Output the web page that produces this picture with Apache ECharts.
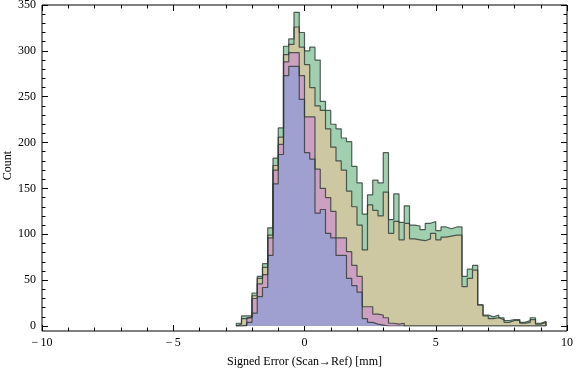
<!DOCTYPE html>
<html>
<head>
<meta charset="utf-8">
<script src="https://cdn.jsdelivr.net/npm/echarts@6/dist/echarts.min.js"></script>
<style>
html, body { margin: 0; padding: 0; background: #fff; }
#chart { width: 576px; height: 371px; }
</style>
</head>
<body>
<div id="chart"></div>
<script>
// bins of 0.2 mm, first edge at -2.6
var binStart = -2.6;
var binWidth = 0.2;

// top of each coloured layer per bin (counts)
var greenTop = [3, 11, 11, 36, 54, 68, 107, 183, 216, 305, 313, 342, 320, 300, 304, 290, 245, 235, 220, 215,
    205, 201, 174, 156, 122, 143, 159, 156, 189, 116, 144, 113, 131, 110, 109, 105, 112, 114, 104, 108,
    106, 108, 108, 54, 62, 66, 23, 12, 10, 12, 9, 6, 7, 7, 4, 6, 9, 3, 5];
var oliveTop = [2, 8, 10, 33, 52, 64, 99, 175, 206, 296, 307, 326, 304, 285, 260, 240, 235, 215, 195, 180,
    170, 147, 130, 110, 83, 132, 126, 120, 146, 101, 114, 94, 112, 95, 94, 93, 95, 101, 94, 97,
    98, 99, 99, 43, 52, 61, 23, 11, 8, 9, 7, 4, 6, 6, 3, 4, 7, 2, 4];
var pinkTop = [0, 1, 9, 30, 46, 56, 96, 170, 198, 288, 298, 298, 273, 228, 228, 171, 150, 140, 125, 96,
    96, 81, 66, 54, 21, 21, 13, 12, 9, 3, 2, 3, 0, 0, 0, 0, 0, 0, 0, 0,
    0, 0, 0, 0, 0, 0, 0, 0, 0, 0, 0, 0, 0, 0, 0, 0, 0, 0, 0];
var blueTop = [0, 0, 4, 14, 32, 42, 77, 155, 187, 273, 283, 283, 247, 189, 182, 123, 127, 101, 96, 77,
    77, 52, 44, 37, 8, 4, 2, 1, 0, 0, 0, 0, 0, 0, 0, 0, 0, 0, 0, 0,
    0, 0, 0, 0, 0, 0, 0, 0, 0, 0, 0, 0, 0, 0, 0, 0, 0, 0, 0];

var xTicks = [-10, -5, 0, 5, 10];
var yTicks = [0, 50, 100, 150, 200, 250, 300, 350];

// outline of one histogram layer as step points
function stepPoints(tops) {
    var pts = [[binStart, 0]];
    for (var i = 0; i < tops.length; i++) {
        pts.push([binStart + i * binWidth, tops[i]]);
    }
    var end = binStart + tops.length * binWidth;
    pts.push([end, tops[tops.length - 1]]);
    pts.push([end, 0]);
    return pts;
}

function layer(name, tops, fill) {
    return {
        name: name,
        type: 'line',
        step: 'end',
        symbol: 'none',
        xAxisIndex: 0,
        yAxisIndex: 0,
        data: stepPoints(tops),
        lineStyle: {color: 'rgba(45,55,50,0.8)', width: 1.2},
        areaStyle: {color: fill, opacity: 1}
    };
}

var font = {fontFamily: 'Liberation Serif', fontSize: 12, color: '#000'};
var noLine = {show: false, onZero: false};
var tickOn = {inside: true, length: 6, lineStyle: {color: '#000', width: 1}};
var minorOn = {show: true, splitNumber: 5, length: 3.5, lineStyle: {color: '#000', width: 1}};

function minusSign(v) {
    return String(v).replace('-', '\u2212\u2009');
}

var chart = echarts.init(document.getElementById('chart'));
chart.setOption({
    animation: false,
    grid: [
        {left: 42, right: 9, top: 5, bottom: 45, containLabel: false, outerBoundsMode: 'none'},
        // frame box
        {left: 42, right: 9, top: 5, bottom: 40, containLabel: false, outerBoundsMode: 'none',
            show: true, borderColor: '#000', borderWidth: 1}
    ],
    xAxis: [{
        gridIndex: 0, type: 'value', min: xTicks[0], max: xTicks[xTicks.length - 1], interval: 5,
        position: 'bottom', offset: 5,
        axisLine: noLine, axisTick: tickOn, minorTick: minorOn, splitLine: {show: false},
        axisLabel: Object.assign({margin: 6, formatter: minusSign}, font),
        name: 'Signed Error (Scan\u2192Ref) [mm]', nameLocation: 'middle', nameGap: 25,
        nameMoveOverlap: false,
        nameTextStyle: font
    }, {
        gridIndex: 0, type: 'value', min: xTicks[0], max: xTicks[xTicks.length - 1], interval: 5,
        position: 'top',
        axisLine: noLine, axisTick: tickOn, minorTick: minorOn, splitLine: {show: false},
        axisLabel: {show: false}
    }, {
        gridIndex: 1, type: 'value', show: false, min: -10, max: 10
    }],
    yAxis: [{
        gridIndex: 0, type: 'value', min: yTicks[0], max: yTicks[yTicks.length - 1], interval: 50,
        position: 'left',
        axisLine: noLine, axisTick: tickOn, minorTick: minorOn, splitLine: {show: false},
        axisLabel: Object.assign({margin: 6}, font),
        name: 'Count', nameLocation: 'middle', nameGap: 28, nameRotate: 90,
        nameMoveOverlap: false,
        nameTextStyle: font
    }, {
        gridIndex: 0, type: 'value', min: yTicks[0], max: yTicks[yTicks.length - 1], interval: 50,
        position: 'right',
        axisLine: noLine, axisTick: tickOn, minorTick: minorOn, splitLine: {show: false},
        axisLabel: {show: false}
    }, {
        gridIndex: 1, type: 'value', show: false, min: 0, max: 1
    }],
    series: [
        layer('green', greenTop, '#a0d0b0'),
        layer('olive', oliveTop, '#cdc8a2'),
        layer('pink', pinkTop, '#cca0c0'),
        layer('blue', blueTop, '#a0a0d0')
    ]
});
</script>
</body>
</html>
